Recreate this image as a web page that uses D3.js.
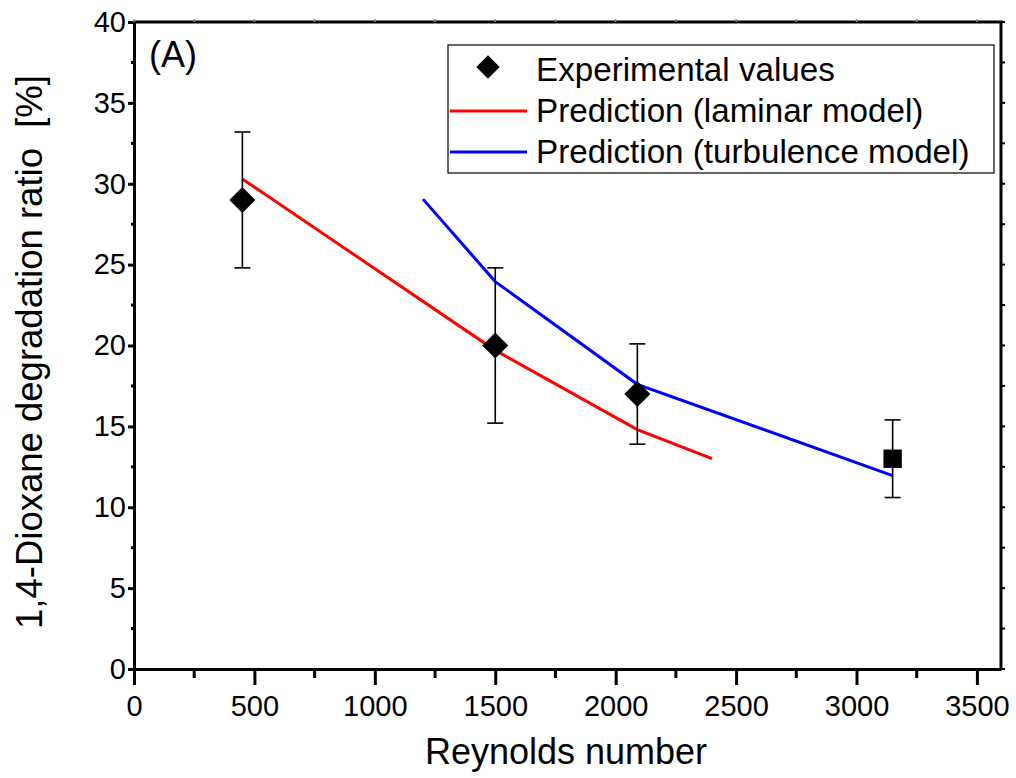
<!DOCTYPE html>
<html>
<head>
<meta charset="utf-8">
<script src="https://cdn.jsdelivr.net/npm/d3@7"></script>
<style>
body{margin:0;background:#fff;}
svg{font-family:"Liberation Sans",Arial,sans-serif;}
</style>
</head>
<body>
<script>
// experimental data
var expRe = [450, 1500, 2090, 3150];
var expVal = [29, 20, 17, 13];
var expLow = [24.8, 15.2, 13.9, 10.6];
var expHigh = [33.2, 24.8, 20.1, 15.4];
var expShape = ["diamond", "diamond", "diamond", "square"];

// model predictions
var lamRe = [450, 1500, 2090, 2400];
var lamVal = [30.3, 19.7, 14.8, 13.0];
var turbRe = [1200, 1500, 2090, 3150];
var turbVal = [29.05, 23.95, 17.6, 11.95];

var xTicks = [0, 500, 1000, 1500, 2000, 2500, 3000, 3500];
var yTicks = [0, 5, 10, 15, 20, 25, 30, 35, 40];

var W = 1016, H = 778;
var m = {left:134, right:1001, top:22, bottom:669};
var FONT = "Liberation Sans, Arial, sans-serif";

var svg = d3.select("body").append("svg").attr("width",W).attr("height",H);

var x = d3.scaleLinear().domain([0,3600]).range([m.left,m.right]);
var y = d3.scaleLinear().domain([0,40]).range([m.bottom,m.top]);

//minor ticks
var xMinor = d3.range(250, 3600, 500);
var yMinor = d3.range(2.5, 40, 5);

// bottom axis
var bx = svg.append("g").attr("transform","translate(0,"+m.bottom+")")
	.call(d3.axisBottom(x).tickValues(xTicks).tickFormat(d3.format("d")).tickSize(16).tickSizeOuter(0).tickPadding(10));
bx.select(".domain").attr("stroke-width",3);
bx.selectAll(".tick line").attr("stroke-width",3);
bx.selectAll("text").attr("font-size",29).attr("fill","#000").attr("font-family",FONT);
svg.append("g").selectAll("line").data(xMinor).join("line")
	.attr("x1",function(d){return x(d);}).attr("x2",function(d){return x(d);})
	.attr("y1",m.bottom).attr("y2",m.bottom+9)
	.attr("stroke","#000").attr("stroke-width",3);

// left axis
var ly = svg.append("g").attr("transform","translate("+m.left+",0)")
	.call(d3.axisLeft(y).tickValues(yTicks).tickSize(6).tickSizeOuter(0).tickPadding(2));
ly.select(".domain").attr("stroke-width",3);
ly.selectAll(".tick line").attr("stroke-width",3);
ly.selectAll("text").attr("font-size",29).attr("fill","#000").attr("font-family",FONT);
svg.append("g").selectAll("line").data(yMinor).join("line")
	.attr("x1",m.left).attr("x2",m.left-3)
	.attr("y1",function(d){return y(d);}).attr("y2",function(d){return y(d);})
	.attr("stroke","#000").attr("stroke-width",3);

// top & right frame
svg.append("line").attr("x1",m.left).attr("x2",m.right+1.5).attr("y1",m.top).attr("y2",m.top)
	.attr("stroke","#000").attr("stroke-width",3);
svg.append("line").attr("x1",m.right).attr("x2",m.right).attr("y1",m.top).attr("y2",m.bottom)
	.attr("stroke","#000").attr("stroke-width",3);
svg.append("g").selectAll("line").data(xTicks.concat(xMinor)).join("line")
	.attr("x1",function(d){return x(d);}).attr("x2",function(d){return x(d);})
	.attr("y1",m.top).attr("y2",m.top-3)
	.attr("stroke","#888").attr("stroke-width",1.5);
svg.append("g").selectAll("line").data(yTicks.concat(yMinor)).join("line")
	.attr("x1",m.right).attr("x2",m.right+4)
	.attr("y1",function(d){return y(d);}).attr("y2",function(d){return y(d);})
	.attr("stroke","#000").attr("stroke-width",2);

// axis titles
svg.append("text").attr("x",566).attr("y",764)
	.attr("text-anchor","middle").attr("font-size",36).text("Reynolds number");
svg.append("text").attr("transform","translate(42,352) rotate(-90)")
	.attr("text-anchor","middle").attr("font-size",36.5).attr("xml:space","preserve")
	.text("1,4-Dioxane degradation ratio  [%]");

svg.append("text").attr("x",149).attr("y",67).attr("font-size",36).text("(A)");

// model lines
var line = d3.line();
svg.append("path").datum(lamRe.map(function(d,i){return [x(d),y(lamVal[i])];}))
	.attr("d",line).attr("fill","none").attr("stroke","#ff0000").attr("stroke-width",3);
svg.append("path").datum(turbRe.map(function(d,i){return [x(d),y(turbVal[i])];}))
	.attr("d",line).attr("fill","none").attr("stroke","#0000ff").attr("stroke-width",3);

// error bars
var eb = svg.append("g").selectAll("g").data(expRe).join("g");
eb.append("line")
	.attr("x1",function(d){return x(d);}).attr("x2",function(d){return x(d);})
	.attr("y1",function(d,i){return y(expLow[i]);}).attr("y2",function(d,i){return y(expHigh[i]);})
	.attr("stroke","#000").attr("stroke-width",1.6);
[expLow, expHigh].forEach(function(arr){
	eb.append("line")
		.attr("x1",function(d){return x(d)-8;}).attr("x2",function(d){return x(d)+8;})
		.attr("y1",function(d,i){return y(arr[i]);}).attr("y2",function(d,i){return y(arr[i]);})
		.attr("stroke","#000").attr("stroke-width",1.6);
});

// markers
var dia = d3.symbol().type(d3.symbolSquare).size(18.4*18.4);
expRe.forEach(function(d,i){
	var p = svg.append("path").attr("d",dia()).attr("fill","#000");
	if(expShape[i]=="diamond"){
		p.attr("transform","translate("+x(d)+","+y(expVal[i])+") rotate(45)");
	}else{
		p.attr("transform","translate("+x(d)+","+y(expVal[i])+")");
	};
});

// legend
var lg = svg.append("g");
lg.append("rect").attr("x",448).attr("y",45).attr("width",546).attr("height",128)
	.attr("fill","#fff").attr("stroke","#000").attr("stroke-width",1.2);
lg.append("path").attr("d",d3.symbol().type(d3.symbolSquare).size(16.5*16.5)()).attr("fill","#000")
	.attr("transform","translate(488,67) rotate(45)");
lg.append("line").attr("x1",450).attr("x2",527).attr("y1",111).attr("y2",111)
	.attr("stroke","#ff0000").attr("stroke-width",3);
lg.append("line").attr("x1",450).attr("x2",527).attr("y1",152).attr("y2",152)
	.attr("stroke","#0000ff").attr("stroke-width",3);
var legTxt = ["Experimental values","Prediction (laminar model)","Prediction (turbulence model)"];
lg.selectAll("text").data(legTxt).join("text")
	.attr("x",536).attr("y",function(d,i){return 81+i*41;})
	.attr("font-size",33.2).text(function(d){return d;});
</script>
</body>
</html>
